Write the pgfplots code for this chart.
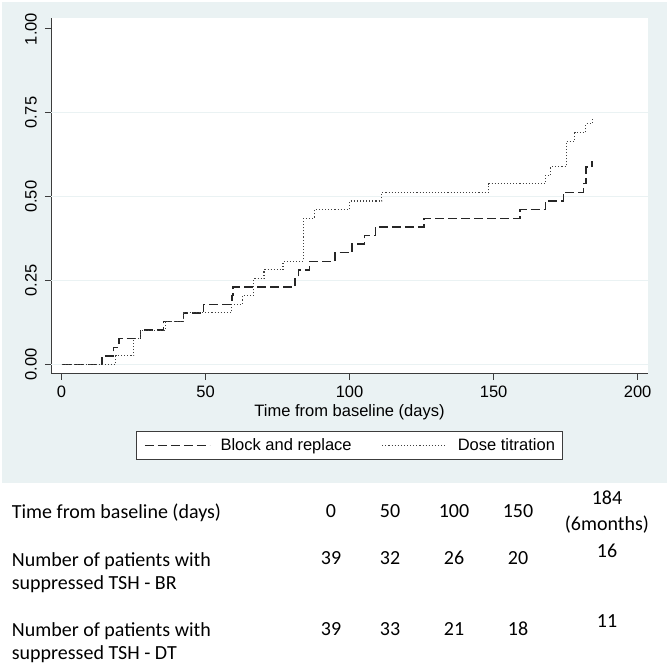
\documentclass[border=0pt]{standalone}
\usepackage{fontspec}
\setmainfont{Liberation Sans}
\newfontfamily\calfont{Carlito}
\usepackage{pgfplots}
\usepackage{pgfplotstable}
\pgfplotsset{compat=1.18}
\definecolor{statabg}{RGB}{234,242,243}
\definecolor{axisgray}{RGB}{60,60,60}
\newcommand{\chartfont}{\fontsize{16.5}{19.8}\selectfont}
\newcommand{\tabfont}{\calfont\fontsize{20}{24}\selectfont}

% Kaplan-Meier failure curves
\pgfplotstableread{
t   y
0     0
14.0  0.0256
18.0  0.0513
20.0  0.0769
27.4  0.1026
35.4  0.1282
42.4  0.1538
49.3  0.1795
59.1  0.2051
59.6  0.2308
81.1  0.2564
82.2  0.2821
86.1  0.3077
95.0  0.3333
100.8 0.3590
105.1 0.3846
109.0 0.4103
125.9 0.4359
159.1 0.4615
168.0 0.4872
174.2 0.5128
181.2 0.5400
182.0 0.5880
184.2 0.6080
}\brdata

\pgfplotstableread{
t   y
0     0
18.8  0.0256
25.1  0.0769
27.4  0.1026
36.0  0.1282
42.4  0.1538
59.0  0.1795
62.8  0.2051
66.8  0.2564
70.3  0.2821
76.9  0.3077
84.0  0.4359
87.8  0.4615
100.0 0.4872
111.2 0.5128
148.3 0.5385
168.0 0.5640
169.8 0.5890
175.2 0.6660
178.1 0.6910
182.0 0.7170
184.2 0.7370
}\dtdata

\begin{document}
\begin{tikzpicture}
\path (0pt,0pt) rectangle (667pt,667pt);
\fill[statabg] (2pt,184pt) rectangle (667pt,665pt);

\begin{axis}[
  at={(51pt,293pt)}, anchor=south west,
  scale only axis, width=597pt, height=356pt,
  xmin=-3.65, xmax=203.6, ymin=-0.0283, ymax=1.0328,
  axis x line*=bottom, axis y line*=left,
  axis line style={-, draw=axisgray, line width=1pt},
  axis background/.style={fill=white},
  xtick={0,50,100,150,200},
  ytick={0,0.25,0.5,0.75,1},
  tick align=outside, major tick length=6pt,
  tick style={draw=axisgray, line width=1pt},
  /pgf/number format/assume math mode=true,
  ticklabel style={font=\chartfont},
  xticklabel style={yshift=-2pt},
  yticklabel style={rotate=90, anchor=south, inner ysep=8pt,
    /pgf/number format/.cd, fixed, fixed zerofill, precision=2},
  extra y ticks={0,0.25,0.5,0.75},
  extra y tick labels={},
  extra y tick style={grid=major, major tick length=0pt,
    major grid style={draw=statabg, line width=1.2pt}},
  xlabel={Time from baseline (days)},
  xlabel style={font=\chartfont, at={(axis description cs:0.5,-0.1067)}, anchor=center},
  legend columns=2,
  legend style={at={(0.5,-0.2008)}, anchor=center, font=\chartfont,
    draw=axisgray, line width=1pt, fill=white,
    inner xsep=8pt, inner ysep=7.5pt,
    nodes={inner sep=0pt},
    /tikz/every odd column/.append style={column sep=10pt},
    /tikz/every even column/.append style={column sep=30pt}},
  legend image code/.code={\draw[#1] (0pt,0pt) -- (65pt,0pt);},
]
\addplot[const plot, no marks, draw=black!85, line width=1.5pt,
  dash pattern=on 9pt off 4pt] table[x=t, y=y] {\brdata};
\addlegendentry{Block and replace}
\addplot[const plot, no marks, draw=black!75, line width=1.1pt,
  dash pattern=on 1.1pt off 2pt] table[x=t, y=y] {\dtdata};
\addlegendentry{Dose titration}
\end{axis}

% number-at-risk table
\begin{scope}[every node/.style={font=\tabfont, inner sep=0pt}]
\node[anchor=base west] at (11.7pt,148.7pt) {Time from baseline (days)};
\node[anchor=base west] at (11.7pt,100.3pt) {Number of patients with};
\node[anchor=base west] at (11.7pt,77pt) {suppressed TSH - BR};
\node[anchor=base west] at (11.7pt,30.3pt) {Number of patients with};
\node[anchor=base west] at (11.7pt,7pt) {suppressed TSH - DT};

\node[anchor=base] at (331pt,149.3pt) {0};
\node[anchor=base] at (390pt,149.3pt) {50};
\node[anchor=base] at (454pt,149.3pt) {100};
\node[anchor=base] at (518pt,149.3pt) {150};
\node[anchor=base] at (607pt,162pt) {184};
\node[anchor=base] at (607pt,136.5pt) {(6months)};

\node[anchor=base] at (331pt,102pt) {39};
\node[anchor=base] at (390pt,102pt) {32};
\node[anchor=base] at (454pt,102pt) {26};
\node[anchor=base] at (518pt,102pt) {20};
\node[anchor=base] at (607pt,109.3pt) {16};

\node[anchor=base] at (331pt,31.3pt) {39};
\node[anchor=base] at (390pt,31.3pt) {33};
\node[anchor=base] at (454pt,31.3pt) {21};
\node[anchor=base] at (518pt,31.3pt) {18};
\node[anchor=base] at (607pt,39.3pt) {11};
\end{scope}
\end{tikzpicture}
\end{document}
